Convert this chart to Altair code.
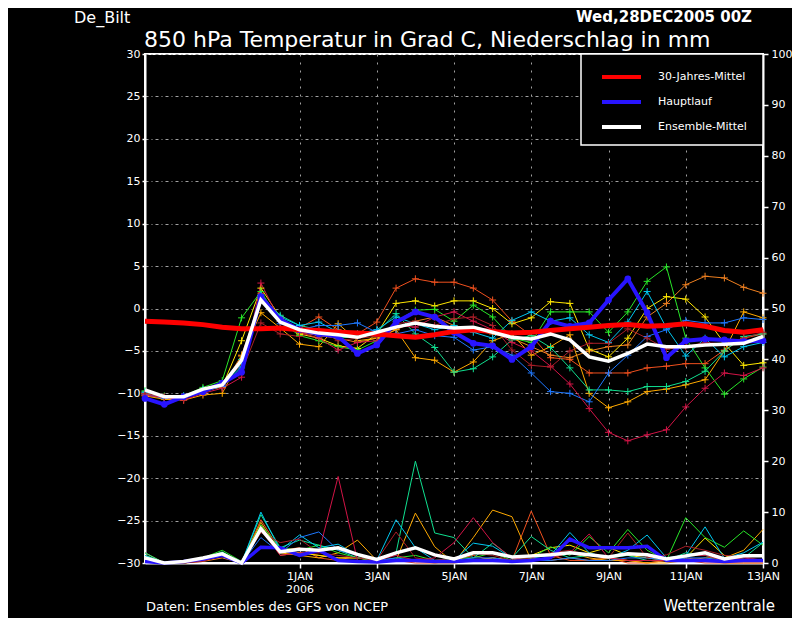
"""GFS-Ensemble-Diagramm De Bilt: 850 hPa Temperatur und Niederschlag (Altair)."""

import altair as alt
import pandas as pd

# 12-stuendige Termine vom 28.12.2005 00Z bis 13.01.2006 00Z
ZEITEN = pd.date_range("2005-12-28", periods=33, freq="12h").strftime("%Y-%m-%dT%H:%M:%SZ").tolist()

# 30-Jahres-Mittel, Hauptlauf, Ensemble-Mittel (Temperatur in Grad C)
KLIMA = [-1.5, -1.6, -1.7, -1.9, -2.2, -2.4, -2.4, -2.3, -2.5, -2.6, -2.8, -2.9, -3.0, -3.2, -3.4, -3.1, -2.7,
         -2.5, -2.7, -2.9, -2.8, -2.6, -2.4, -2.2, -2.0, -1.9, -2.1, -2.0, -1.8, -2.1, -2.6, -2.8, -2.5]
HAUPTLAUF_T = [-10.6, -11.3, -10.4, -9.8, -8.8, -7.5, 1.4, -1.3, -2.5, -3.0, -3.3, -5.3, -4.3, -1.6, -0.4, -1.0, -2.8,
               -4.1, -4.4, -6.0, -4.5, -1.5, -2.1, -1.7, 1.0, 3.5, -0.5, -5.8, -3.8, -3.6, -3.7, -3.9, -3.8]
MITTEL_T = [-9.6, -10.4, -10.4, -9.5, -9.0, -6.1, 1.0, -1.6, -2.5, -2.9, -3.1, -3.4, -2.8, -2.2, -1.7, -2.1, -2.3,
            -2.2, -2.8, -3.4, -3.6, -3.0, -3.7, -5.7, -6.2, -5.3, -4.2, -4.5, -4.5, -4.3, -4.2, -4.1, -3.3]

# Niederschlag in mm
HAUPTLAUF_RR = [0.3, 0, 0.3, 0.8, 1.5, 0, 3.1, 3.0, 1.5, 2.5, 0.5, 0.3, 0.2, 0.5, 0.5, 0.3, 0.3,
                0.5, 0.5, 0.3, 0.5, 1.0, 4.7, 3.0, 3.0, 3.0, 3.3, 0.5, 0.5, 0.5, 0.3, 0.5, 0.5]
MITTEL_RR = [1.0, 0, 0.3, 1.0, 1.8, 0, 6.7, 2.2, 2.7, 2.5, 3.0, 1.7, 0.7, 2.0, 3.0, 1.6, 0.8,
             2.0, 2.0, 1.2, 1.4, 1.6, 2.0, 1.6, 1.2, 1.8, 1.6, 0.8, 1.4, 2.0, 0.8, 1.4, 1.4]

# Ensemble-Mitglieder: Temperatur
T_ORANGEROT = [-10.0, -10.5, -10.6, -9.7, -9.0, -6.5, 1.8, -1.5, -2.3, -1.0, -2.5, -3.0, -1.6, 2.4, 3.5, 3.1, 3.1,
               2.4, 1.0, -1.5, -3.2, -5.8, -6.0, -7.6, -7.6, -7.6, -7.0, -6.8, -6.5, -6.5, -4.9, -3.5, -3.0]
T_DUNKELORANGE = [-10.2, -10.6, -10.5, -9.5, -9.3, -5.5, 1.0, -1.2, -2.8, -3.2, -3.5, -4.0, -3.5, -2.5, -1.5, -1.0, -2.0,
                  -2.5, -3.0, -3.5, -4.5, -5.5, -5.8, -5.0, -4.5, -4.3, -1.0, 0.6, 2.8, 3.8, 3.6, 2.5, 1.8]
T_ORANGE = [-10.3, -10.7, -10.8, -10.2, -10.0, -5.6, -0.5, -2.3, -4.2, -4.5, -1.8, -3.8, -3.5, -2.5, -5.8, -6.1, -7.5,
            -6.3, -3.8, -3.0, -5.5, -4.5, -3.1, -10.0, -11.7, -11.0, -9.8, -9.5, -9.0, -8.4, -5.0, -0.4, -1.1]
T_GELB = [-10.0, -10.4, -10.5, -9.8, -9.2, -3.8, 2.4, -1.0, -3.0, -3.5, -4.4, -4.7, -3.0, 0.6, 0.9, 0.3, 0.9,
          0.9, 0.0, -1.8, -1.1, 0.8, 0.6, -4.8, -5.7, -3.5, 0.0, 1.4, 1.1, -1.0, -4.1, -6.7, -6.4]
T_HELLGRUEN = [-9.7, -10.3, -10.3, -9.3, -8.5, -1.1, 2.0, -1.5, -3.2, -3.8, -4.5, -4.9, -3.8, -1.5, -0.2, -0.1, -1.5,
               0.4, -1.0, -3.5, -4.0, -0.4, -0.4, -0.4, -2.8, -0.4, 3.2, 4.9, -3.5, -7.0, -10.1, -8.3, -6.9]
T_MEERGRUEN = [-9.8, -10.4, -10.4, -9.5, -9.0, -6.0, 1.5, -0.8, -2.0, -2.5, -3.5, -3.3, -2.8, -0.6, -3.0, -4.6, -7.5,
               -7.1, -5.7, -3.7, -3.2, -4.6, -7.0, -9.6, -9.6, -9.8, -9.2, -9.2, -8.6, -7.4, -5.0, -3.3, -3.0]
T_CYAN = [-9.9, -10.5, -10.3, -9.6, -9.0, -6.8, 1.6, -1.0, -2.0, -1.6, -2.8, -3.0, -2.5, -1.0, -1.8, -2.5, -2.0,
          -2.8, -3.5, -1.4, -0.4, -1.5, -1.1, -3.1, -4.0, -1.6, 2.0, -2.3, -5.6, -3.5, -5.7, -4.5, -4.0]
T_BLAU = [-10.1, -10.6, -10.5, -9.7, -9.2, -7.0, 1.2, -1.8, -2.5, -2.0, -2.0, -1.7, -2.8, -3.0, -2.5, -3.2, -3.4,
          -4.9, -4.5, -5.5, -7.6, -9.8, -10.0, -11.0, -7.6, -5.5, -3.3, -2.5, -1.4, -1.7, -1.7, -1.1, -1.3]
T_KARMIN = [-10.2, -10.5, -10.8, -10.0, -9.4, -8.1, 3.0, -1.5, -2.8, -3.5, -4.9, -4.0, -3.8, -2.0, -2.2, -1.0, -0.4,
            -1.5, -2.5, -4.0, -5.0, -6.8, -8.9, -11.8, -14.6, -15.6, -14.9, -14.3, -11.6, -9.4, -7.6, -7.9, -7.0]
T_ZIEGELROT = [-10.0, -10.4, -10.6, -9.8, -9.0, -7.5, -1.7, -3.0, -3.3, -2.5, -3.8, -3.5, -3.3, -1.8, -1.5, -2.0, -1.2,
               -1.0, -2.0, -4.9, -6.7, -6.9, -5.0, -4.1, -4.1, -2.4, -3.5, -4.8, -4.5, -4.0, -4.2, -3.5, -2.8]

# Ensemble-Mitglieder: Niederschlag
RR_ORANGEROT = [1.0, 0, 0, 0.5, 1.5, 0, 8.5, 2.5, 3.0, 1.0, 0.5, 1.5, 0, 0.5, 0, 0, 0.5,
                1.5, 0.5, 0.5, 10.2, 1.5, 0.5, 0.5, 1.0, 0, 0, 0.5, 0.5, 0, 0, 0, 0]
RR_DUNKELORANGE = [1.5, 0, 0, 0.3, 1.0, 0, 7.5, 1.5, 2.0, 1.5, 1.0, 1.0, 0.5, 0.5, 0.5, 0, 0,
                   0.5, 1.0, 0.5, 1.0, 0.5, 1.0, 0.5, 1.0, 0.5, 0, 0.5, 1.0, 0.5, 0, 0, 0]
RR_ORANGE = [2.0, 0, 0, 0.5, 1.5, 0, 8.0, 2.0, 1.5, 1.0, 2.0, 4.5, 0.5, 0.5, 9.8, 3.2, 0,
             5.0, 10.4, 9.1, 0.5, 1.0, 2.0, 1.0, 0.5, 0.5, 0, 0, 0.5, 1.0, 1.0, 2.5, 6.6]
RR_GELB = [1.0, 0, 0, 0.8, 2.0, 0, 7.0, 2.5, 2.0, 1.5, 1.0, 1.0, 0.5, 0.5, 0.5, 0.5, 0.5,
           0.5, 1.0, 0.5, 1.5, 3.0, 3.5, 2.0, 3.1, 1.5, 1.0, 0.5, 1.0, 4.9, 1.5, 0.5, 0.5]
RR_HELLGRUEN = [1.5, 0, 0, 1.0, 2.5, 0.3, 7.5, 3.0, 2.5, 3.5, 2.0, 1.0, 0.3, 1.0, 1.5, 0.5, 1.0,
                1.0, 2.0, 0.5, 1.0, 3.2, 1.5, 5.2, 2.0, 6.6, 2.5, 0.5, 8.9, 5.0, 3.1, 6.3, 3.5]
RR_MEERGRUEN = [2.0, 0, 0, 0.8, 2.2, 0, 9.5, 3.0, 4.5, 3.5, 2.5, 1.0, 0.5, 2.0, 20.0, 5.9, 5.0,
                1.0, 3.9, 1.0, 5.2, 2.5, 1.0, 1.5, 1.0, 1.5, 0.5, 0.5, 2.0, 1.5, 0.5, 1.0, 4.0]
RR_CYAN = [1.5, 0, 0, 0.5, 2.0, 0, 10.0, 2.5, 5.5, 3.0, 3.7, 1.5, 0.5, 8.5, 3.0, 0.5, 0.5,
           3.9, 3.3, 1.0, 1.0, 1.5, 6.0, 2.0, 1.0, 2.5, 5.5, 1.0, 1.5, 7.1, 0.9, 2.0, 4.1]
RR_BLAU = [0.5, 0, 0, 0.5, 1.5, 0, 5.0, 2.0, 5.0, 6.1, 2.5, 1.5, 0.5, 1.0, 0.5, 0.5, 0.5,
           1.0, 1.0, 0.5, 0.5, 0.5, 1.0, 0.5, 0.5, 1.0, 1.0, 0.5, 1.0, 1.0, 0.5, 1.5, 1.5]
RR_KARMIN = [1.0, 0, 0, 0.5, 1.8, 0, 6.5, 1.5, 2.0, 2.0, 17.0, 0.5, 0.5, 1.5, 0.5, 1.0, 4.0,
             8.9, 4.0, 1.0, 0.5, 1.0, 2.0, 5.7, 1.0, 0.5, 0.5, 0.5, 1.5, 1.5, 0.5, 1.0, 0.5]
RR_ZIEGELROT = [1.0, 0, 0, 0.3, 1.5, 0, 6.0, 4.0, 4.7, 2.0, 1.5, 1.0, 0.5, 6.1, 1.0, 0.5, 1.0,
                2.0, 1.5, 0.5, 1.0, 2.0, 2.5, 1.5, 1.0, 5.9, 1.0, 1.6, 3.3, 2.5, 1.5, 1.2, 0.5]

MITGLIEDER = [
    ("p1", "#f0501e", T_ORANGEROT, RR_ORANGEROT),
    ("p2", "#f08020", T_DUNKELORANGE, RR_DUNKELORANGE),
    ("p3", "#ffaa00", T_ORANGE, RR_ORANGE),
    ("p4", "#ffe600", T_GELB, RR_GELB),
    ("p5", "#28e628", T_HELLGRUEN, RR_HELLGRUEN),
    ("p6", "#10e090", T_MEERGRUEN, RR_MEERGRUEN),
    ("p7", "#00c8f0", T_CYAN, RR_CYAN),
    ("p8", "#1e78ff", T_BLAU, RR_BLAU),
    ("p9", "#d21446", T_KARMIN, RR_KARMIN),
    ("p10", "#aa1e28", T_ZIEGELROT, RR_ZIEGELROT),
]

LEGENDE = [("30-Jahres-Mittel", "#ff0000"), ("Hauptlauf", "#2814ff"), ("Ensemble-Mittel", "#ffffff")]

FONT = "DejaVu Sans"
KREUZ = "M-1,0H1M0,-1V1"


def ensemble_frame() -> pd.DataFrame:
    rows = []
    for name, farbe, temps, rr in MITGLIEDER:
        if len(temps) != len(ZEITEN) or len(rr) != len(ZEITEN):
            raise ValueError(f"Laenge passt nicht: {name}")
        for zeit, t, p in zip(ZEITEN, temps, rr):
            rows.append({"zeit": zeit, "lauf": name, "farbe": farbe, "temp": t, "rr": p})
    return pd.DataFrame(rows)


def text_layer(text, x, y, size, align="left", weight="normal"):
    return alt.Chart(pd.DataFrame({"t": [text]})).mark_text(
        align=align, baseline="alphabetic", font=FONT, fontSize=size, fontWeight=weight, color="white"
    ).encode(x=alt.value(x), y=alt.value(y), text="t:N")


def legend_layers():
    box = alt.Chart(pd.DataFrame({"t": [0]})).mark_rect(
        fill="black", stroke="white", strokeWidth=1.5
    ).encode(x=alt.value(436), x2=alt.value(618), y=alt.value(0), y2=alt.value(91))
    teile = [box]
    for k, (name, farbe) in enumerate(LEGENDE):
        yk = 23 + 25 * k
        d = alt.Chart(pd.DataFrame({"t": [name]}))
        teile.append(d.mark_rule(color=farbe, strokeWidth=4).encode(
            x=alt.value(457), x2=alt.value(496), y=alt.value(yk)))
        teile.append(d.mark_text(align="left", baseline="middle", font=FONT, fontSize=11, color="white").encode(
            x=alt.value(513), y=alt.value(yk), text="t:N"))
    return teile


def main() -> None:
    ens = ensemble_frame()
    haupt = pd.DataFrame({"zeit": ZEITEN, "temp": HAUPTLAUF_T, "rr": HAUPTLAUF_RR})
    mittel = pd.DataFrame({"zeit": ZEITEN, "temp": MITTEL_T, "rr": MITTEL_RR})
    klima = pd.DataFrame({"zeit": ZEITEN, "temp": KLIMA})

    tage = [alt.DateTime(year=2006, month=1, date=d, utc=True) for d in (1, 3, 5, 7, 9, 11, 13)]
    x = alt.X(
        "zeit:T",
        title=None,
        scale=alt.Scale(
            type="utc",
            domain=[alt.DateTime(year=2005, month=12, date=28, utc=True),
                    alt.DateTime(year=2006, month=1, date=13, utc=True)],
            nice=False,
        ),
        axis=alt.Axis(
            values=tage,
            labelExpr="utcFormat(datum.value, '%d%m') == '0101' ? ['1JAN', '2006'] "
                      ": upper(utcFormat(datum.value, '%-d%b'))",
            labelFlush=False, labelOverlap=False, labelPadding=2, labelLineHeight=13,
            tickSize=5, grid=True, gridDash=[2, 6], gridColor="#a0a0a0", gridWidth=1,
        ),
    )
    y_temp = alt.Y(
        "temp:Q", title=None,
        scale=alt.Scale(domain=[-30, 30], nice=False),
        axis=alt.Axis(values=list(range(-30, 31, 5)), tickSize=3, labelPadding=2,
                      grid=True, gridDash=[3, 3, 1, 3], gridColor="#a0a0a0", gridWidth=1),
    )
    y_rr = alt.Y(
        "rr:Q", title=None,
        scale=alt.Scale(domain=[0, 100], nice=False),
        axis=alt.Axis(orient="right", values=list(range(0, 101, 10)), tickSize=5, labelPadding=3, grid=False),
    )

    farbe = alt.Color("farbe:N", scale=None, legend=None)

    niederschlag = alt.layer(
        alt.Chart(ens).mark_line(strokeWidth=1).encode(x=x, y=y_rr, color=farbe, detail="lauf:N"),
        alt.Chart(haupt).mark_line(color="#2814ff", strokeWidth=3.5).encode(x=x, y=y_rr),
        alt.Chart(mittel).mark_line(color="white", strokeWidth=3.5).encode(x=x, y=y_rr),
    )

    temperatur = alt.layer(
        alt.Chart(ens).mark_line(strokeWidth=1).encode(x=x, y=y_temp, color=farbe, detail="lauf:N"),
        alt.Chart(ens).mark_point(shape=KREUZ, filled=False, size=49, strokeWidth=1, opacity=1).encode(
            x=x, y=y_temp, color=farbe),
        alt.Chart(haupt).mark_line(color="#2814ff", strokeWidth=4).encode(x=x, y=y_temp),
        alt.Chart(haupt).mark_point(color="#2814ff", filled=True, size=45, opacity=1).encode(x=x, y=y_temp),
        alt.Chart(klima).mark_line(color="#ff0000", strokeWidth=5).encode(x=x, y=y_temp),
        alt.Chart(mittel).mark_line(color="white", strokeWidth=3.5).encode(x=x, y=y_temp),
    )

    beschriftung = [
        text_layer("De_Bilt", -71, -31, 16),
        text_layer("850 hPa Temperatur in Grad C, Niederschlag in mm", -1, -7, 22),
        text_layer("Wed,28DEC2005 00Z", 607, -32, 15, align="right", weight="bold"),
        text_layer("Daten: Ensembles des GFS von NCEP", 1, 557, 13),
        text_layer("Wetterzentrale", 630, 557, 15, align="right"),
    ]

    chart = (
        alt.layer(niederschlag, temperatur, *legend_layers(), *beschriftung)
        .resolve_scale(y="independent")
        .properties(
            width=618, height=509,
            autosize=alt.AutoSizeParams(type="none"),
            padding={"left": 137, "top": 46, "right": 29, "bottom": 55},
            background="black",
        )
        .configure_view(stroke="white", strokeWidth=2, fill="black")
        .configure_axis(
            labelColor="white", labelFont=FONT, labelFontSize=11,
            tickColor="white", tickWidth=1.5, domainColor="white", domainWidth=2,
        )
    )
    chart.save("out.html", embed_options={"renderer": "svg", "actions": False})


if __name__ == "__main__":
    main()
